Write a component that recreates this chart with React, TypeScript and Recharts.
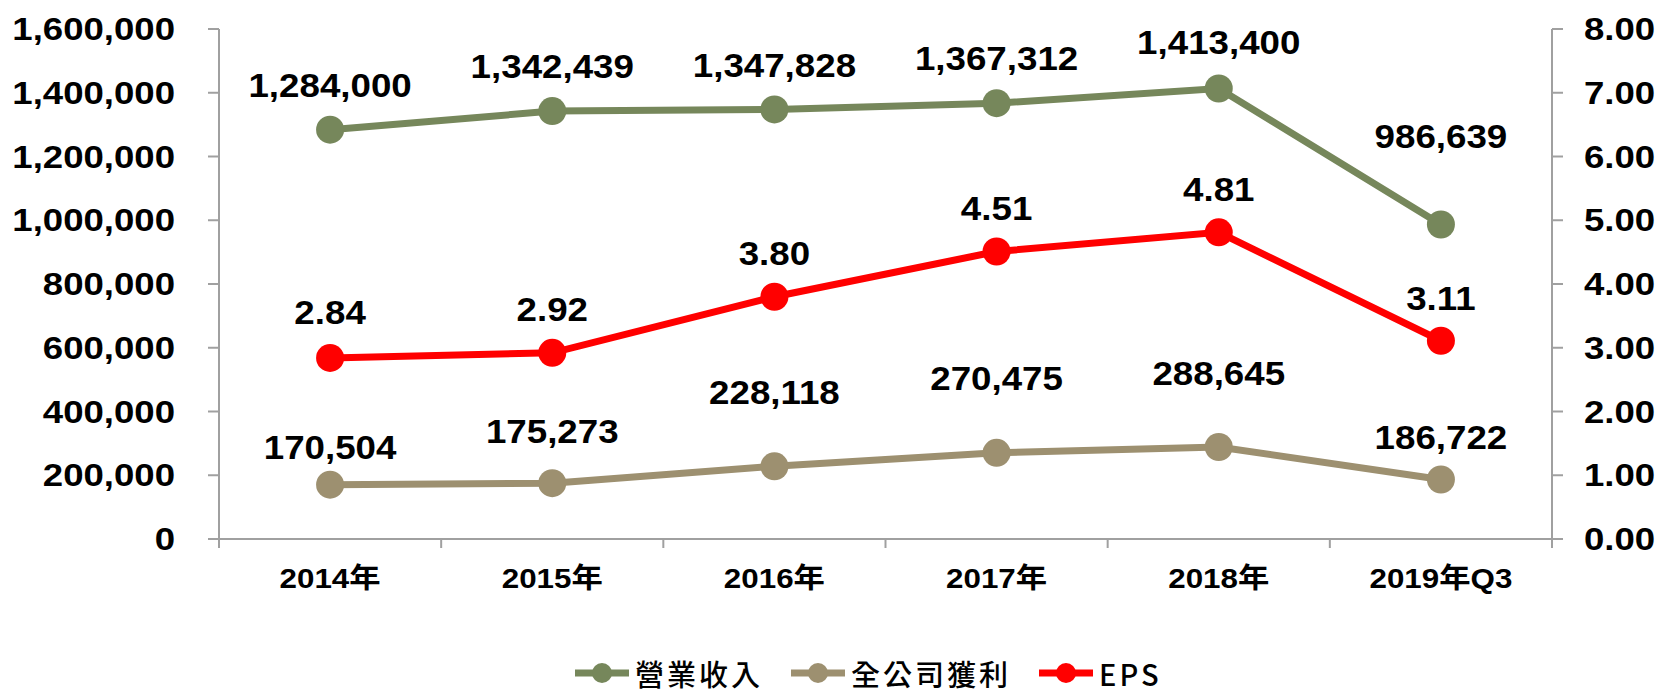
import { ComposedChart, Line, XAxis, YAxis, LabelList, Legend } from 'recharts';

const categories = ['2014年', '2015年', '2016年', '2017年', '2018年', '2019年Q3'];
const revenue = [1284000, 1342439, 1347828, 1367312, 1413400, 986639];
const profit = [170504, 175273, 228118, 270475, 288645, 186722];
const eps = [2.84, 2.92, 3.8, 4.51, 4.81, 3.11];
const seriesNames = ['營業收入', '全公司獲利', 'EPS'];
const leftTicks = [0, 200000, 400000, 600000, 800000, 1000000, 1200000, 1400000, 1600000];
const rightTicks = [0, 1, 2, 3, 4, 5, 6, 7, 8];

// how far each value label sits above its point (px), the original has them hand-placed
const revenueLabelLift = [33, 33, 32, 33, 34, 77];
const profitLabelLift = [26, 40, 62, 63, 62, 30];
const epsLabelLift = [34, 32, 32, 31, 31, 31];

const COLORS = ['#76875b', '#9d9070', '#ff0000'];
const AXIS = '#a0a0a0';
const FONT = '"Liberation Sans", Arial, "Noto Sans CJK TC", sans-serif';

const W = 1661;
const H = 691;
const PLOT_LEFT = 219;
const PLOT_RIGHT = 1552;
const BAND = (PLOT_RIGHT - PLOT_LEFT) / categories.length;

const data = categories.map((name, i) => ({
	name,
	revenue: revenue[i],
	profit: profit[i],
	eps: eps[i],
}));

const fmtInt = (v: number) => v.toLocaleString('en-US');
const fmt2 = (v: number) => v.toFixed(2);

const LeftTick = ({ x, y, payload }: any) => (
	<text
		transform={`translate(${x},${y}) scale(1.18,1)`}
		textAnchor="end"
		dy="0.36em"
		fontFamily={FONT}
		fontWeight="bold"
		fontSize={31}
		fill="#000"
	>
		{fmtInt(payload.value)}
	</text>
);

const RightTick = ({ x, y, payload }: any) => (
	<text
		transform={`translate(${x},${y}) scale(1.18,1)`}
		textAnchor="start"
		dy="0.36em"
		fontFamily={FONT}
		fontWeight="bold"
		fontSize={31}
		fill="#000"
	>
		{fmt2(payload.value)}
	</text>
);

const CatTick = ({ x, y, payload, index }: any) => {
	const last = index === categories.length - 1;
	return (
		<g>
			<line x1={x - BAND / 2} x2={x - BAND / 2} y1={y} y2={y + 9} stroke={AXIS} strokeWidth={2} />
			{last && <line x1={x + BAND / 2} x2={x + BAND / 2} y1={y} y2={y + 9} stroke={AXIS} strokeWidth={2} />}
			<text
				transform={`translate(${x},${y + 49}) scale(1.12,1)`}
				textAnchor="middle"
				fontFamily={FONT}
				fontWeight="bold"
				fontSize={28}
				fill="#000"
			>
				{payload.value}
			</text>
		</g>
	);
};

const makeLabel = (lift: number[], fmt: (v: number) => string) => (props: any) => {
	const x = props.x ?? props.viewBox?.x;
	const y = props.y ?? props.viewBox?.y;
	const i = props.index ?? 0;
	return (
		<text
			transform={`translate(${x},${y - lift[i]}) scale(1.08,1)`}
			textAnchor="middle"
			fontFamily={FONT}
			fontWeight="bold"
			fontSize={34}
			fill="#000"
		>
			{fmt(props.value)}
		</text>
	);
};

const LegendContent = () => (
	<div style={{ display: 'flex', alignItems: 'center', height: 30, fontFamily: '"Noto Sans CJK TC", sans-serif', fontSize: 29, fontWeight: 500, color: '#000' }}>
		{seriesNames.map((name, i) => (
			<div key={name} style={{ display: 'flex', alignItems: 'center', marginRight: 28 }}>
				<svg width={54} height={24}>
					<line x1={0} x2={54} y1={12} y2={12} stroke={COLORS[i]} strokeWidth={7} strokeLinecap="round" />
					<circle cx={27} cy={12} r={10} fill={COLORS[i]} />
				</svg>
				<span style={{ marginLeft: 6, letterSpacing: 3, lineHeight: '30px' }}>{name}</span>
			</div>
		))}
	</div>
);

export default function App() {
	return (
		<div style={{ position: 'absolute', left: 0, top: 0, width: W, height: H, background: '#fff' }}>
			<ComposedChart width={W} height={H} data={data} margin={{ top: 29, right: 0, bottom: 92, left: 0 }}>
				<XAxis
					dataKey="name"
					scale="band"
					tick={<CatTick />}
					tickLine={false}
					tickSize={0}
					tickMargin={0}
					height={60}
					interval={0}
					axisLine={{ stroke: AXIS, strokeWidth: 2 }}
				/>
				<YAxis
					yAxisId="left"
					width={219}
					domain={[0, 1600000]}
					ticks={leftTicks}
					interval={0}
					tick={<LeftTick />}
					tickSize={11}
					tickMargin={33}
					axisLine={{ stroke: AXIS, strokeWidth: 2 }}
					tickLine={{ stroke: AXIS, strokeWidth: 2 }}
				/>
				<YAxis
					yAxisId="right"
					orientation="right"
					width={109}
					domain={[0, 8]}
					ticks={rightTicks}
					interval={0}
					tick={<RightTick />}
					tickSize={11}
					tickMargin={21}
					axisLine={{ stroke: AXIS, strokeWidth: 2 }}
					tickLine={{ stroke: AXIS, strokeWidth: 2 }}
				/>
				<Legend
					layout="horizontal"
					verticalAlign="middle"
					align="center"
					content={<LegendContent />}
					wrapperStyle={{ top: 658, left: 575, width: 660, height: 30 }}
				/>
				<Line
					yAxisId="left"
					dataKey="revenue"
					name={seriesNames[0]}
					stroke={COLORS[0]}
					strokeWidth={7}
					dot={{ r: 14, fill: COLORS[0], stroke: 'none' }}
					activeDot={false}
					isAnimationActive={false}
				>
					<LabelList dataKey="revenue" content={makeLabel(revenueLabelLift, fmtInt)} />
				</Line>
				<Line
					yAxisId="left"
					dataKey="profit"
					name={seriesNames[1]}
					stroke={COLORS[1]}
					strokeWidth={7}
					dot={{ r: 14, fill: COLORS[1], stroke: 'none' }}
					activeDot={false}
					isAnimationActive={false}
				>
					<LabelList dataKey="profit" content={makeLabel(profitLabelLift, fmtInt)} />
				</Line>
				<Line
					yAxisId="right"
					dataKey="eps"
					name={seriesNames[2]}
					stroke={COLORS[2]}
					strokeWidth={7}
					dot={{ r: 14, fill: COLORS[2], stroke: 'none' }}
					activeDot={false}
					isAnimationActive={false}
				>
					<LabelList dataKey="eps" content={makeLabel(epsLabelLift, fmt2)} />
				</Line>
			</ComposedChart>
		</div>
	);
}
